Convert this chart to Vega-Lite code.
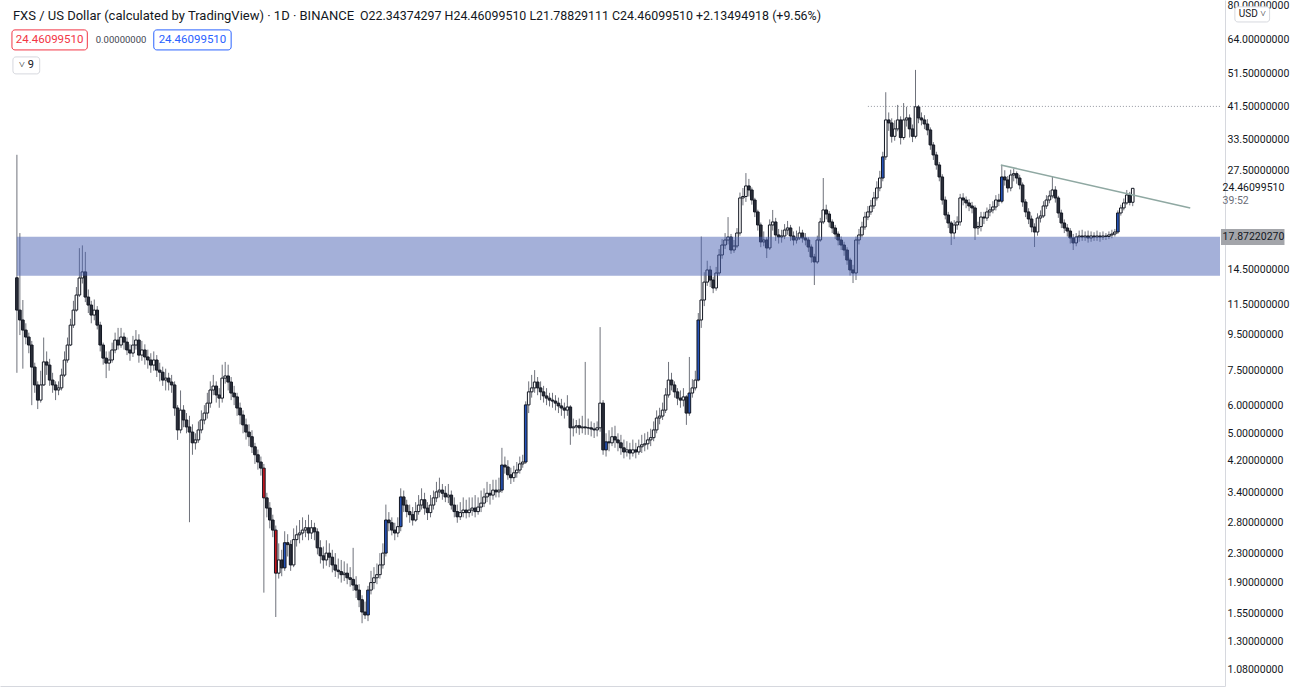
{
"$schema":"https://vega.github.io/schema/vega-lite/v6.json",
"width":1225,"height":686,
"autosize":{"type":"none"},
"padding":{"left":0,"top":0,"right":67,"bottom":2},
"background":"#ffffff",
"config":{"view":{"stroke":null},"font":"Roboto"},
"datasets":{"ohlc":[
{"d":0,"o":13.7,"h":30.4,"l":7.4,"c":11.11},
{"d":1,"o":11.11,"h":18.3,"l":9.45,"c":10.42},
{"d":2,"o":10.42,"h":11.86,"l":7.6,"c":9.76},
{"d":3,"o":9.76,"h":10.2,"l":8.9,"c":9.33},
{"d":4,"o":9.33,"h":9.6,"l":8.4,"c":8.86},
{"d":5,"o":8.86,"h":9.1,"l":6.0,"c":7.68},
{"d":6,"o":7.68,"h":7.9,"l":6.5,"c":6.84},
{"d":7,"o":6.84,"h":7.0,"l":5.85,"c":6.2},
{"d":8,"o":6.2,"h":7.5,"l":6.1,"c":6.84},
{"d":9,"o":6.84,"h":9.3,"l":6.8,"c":7.94},
{"d":10,"o":7.94,"h":8.5,"l":7.3,"c":7.78},
{"d":11,"o":7.78,"h":8.1,"l":6.8,"c":7.06},
{"d":12,"o":7.06,"h":7.4,"l":6.5,"c":6.84},
{"d":13,"o":6.84,"h":7.0,"l":6.2,"c":6.62},
{"d":14,"o":6.62,"h":7.0,"l":6.4,"c":6.71},
{"d":15,"o":6.71,"h":7.6,"l":6.6,"c":7.29},
{"d":16,"o":7.29,"h":8.5,"l":7.2,"c":8.04},
{"d":17,"o":8.04,"h":9.3,"l":7.9,"c":8.86},
{"d":18,"o":8.86,"h":10.5,"l":8.8,"c":10.08},
{"d":19,"o":10.08,"h":11.8,"l":9.9,"c":11.11},
{"d":20,"o":11.11,"h":12.9,"l":11.0,"c":12.25},
{"d":21,"o":12.25,"h":16.6,"l":12.1,"c":13.68},
{"d":22,"o":13.68,"h":16.9,"l":13.2,"c":14.23},
{"d":23,"o":14.23,"h":16.2,"l":11.7,"c":12.09},
{"d":24,"o":12.09,"h":12.7,"l":10.9,"c":11.48},
{"d":25,"o":11.48,"h":11.8,"l":10.2,"c":10.76},
{"d":26,"o":10.76,"h":11.9,"l":10.4,"c":11.11},
{"d":27,"o":11.11,"h":11.4,"l":9.8,"c":10.08},
{"d":28,"o":10.08,"h":10.3,"l":8.5,"c":8.86},
{"d":29,"o":8.86,"h":9.0,"l":7.8,"c":8.14},
{"d":30,"o":8.14,"h":8.5,"l":7.15,"c":7.88},
{"d":31,"o":7.88,"h":8.5,"l":7.5,"c":8.04},
{"d":32,"o":8.04,"h":9.0,"l":7.9,"c":8.58},
{"d":33,"o":8.58,"h":9.6,"l":8.4,"c":9.15},
{"d":34,"o":9.15,"h":9.9,"l":8.6,"c":8.86},
{"d":35,"o":8.86,"h":9.9,"l":8.7,"c":9.33},
{"d":36,"o":9.33,"h":9.6,"l":8.6,"c":9.03},
{"d":37,"o":9.03,"h":9.3,"l":8.3,"c":8.58},
{"d":38,"o":8.58,"h":8.9,"l":8.0,"c":8.41},
{"d":39,"o":8.41,"h":9.4,"l":8.2,"c":8.86},
{"d":40,"o":8.86,"h":9.76,"l":8.6,"c":9.15},
{"d":41,"o":9.15,"h":9.5,"l":7.9,"c":8.3},
{"d":42,"o":8.3,"h":9.1,"l":8.0,"c":8.58},
{"d":43,"o":8.58,"h":8.9,"l":7.8,"c":8.2},
{"d":44,"o":8.2,"h":8.6,"l":7.6,"c":8.04},
{"d":45,"o":8.04,"h":8.4,"l":7.4,"c":7.78},
{"d":46,"o":7.78,"h":8.5,"l":7.5,"c":8.04},
{"d":47,"o":8.04,"h":8.3,"l":7.2,"c":7.53},
{"d":48,"o":7.53,"h":7.9,"l":7.0,"c":7.43},
{"d":49,"o":7.43,"h":7.7,"l":6.8,"c":7.06},
{"d":50,"o":7.06,"h":7.6,"l":6.6,"c":7.15},
{"d":51,"o":7.15,"h":7.4,"l":6.6,"c":6.97},
{"d":52,"o":6.97,"h":7.3,"l":6.5,"c":6.84},
{"d":53,"o":6.84,"h":7.0,"l":5.6,"c":5.89},
{"d":54,"o":5.89,"h":6.0,"l":4.79,"c":5.11},
{"d":55,"o":5.11,"h":6.6,"l":5.0,"c":5.81},
{"d":56,"o":5.81,"h":6.0,"l":5.2,"c":5.45},
{"d":57,"o":5.45,"h":5.7,"l":5.0,"c":5.21},
{"d":58,"o":5.21,"h":5.6,"l":2.81,"c":5.04},
{"d":59,"o":5.04,"h":5.3,"l":4.35,"c":4.7},
{"d":60,"o":4.7,"h":5.0,"l":4.5,"c":4.79},
{"d":61,"o":4.79,"h":5.4,"l":4.7,"c":5.11},
{"d":62,"o":5.11,"h":5.8,"l":5.0,"c":5.45},
{"d":63,"o":5.45,"h":6.0,"l":5.3,"c":5.7},
{"d":64,"o":5.7,"h":6.5,"l":5.5,"c":6.08},
{"d":65,"o":6.08,"h":7.0,"l":5.9,"c":6.62},
{"d":66,"o":6.62,"h":7.3,"l":6.4,"c":6.79},
{"d":67,"o":6.79,"h":7.0,"l":6.1,"c":6.41},
{"d":68,"o":6.41,"h":6.7,"l":5.9,"c":6.28},
{"d":69,"o":6.28,"h":7.8,"l":6.1,"c":7.15},
{"d":70,"o":7.15,"h":7.94,"l":6.9,"c":7.25},
{"d":71,"o":7.25,"h":7.8,"l":6.6,"c":6.97},
{"d":72,"o":6.97,"h":7.2,"l":6.2,"c":6.49},
{"d":73,"o":6.49,"h":6.8,"l":6.0,"c":6.33},
{"d":74,"o":6.33,"h":6.5,"l":5.6,"c":5.89},
{"d":75,"o":5.89,"h":6.1,"l":5.3,"c":5.63},
{"d":76,"o":5.63,"h":5.8,"l":5.0,"c":5.28},
{"d":77,"o":5.28,"h":5.5,"l":4.8,"c":5.04},
{"d":78,"o":5.04,"h":5.3,"l":4.6,"c":4.89},
{"d":79,"o":4.89,"h":5.1,"l":4.4,"c":4.58},
{"d":80,"o":4.58,"h":4.7,"l":4.1,"c":4.35},
{"d":81,"o":4.35,"h":4.5,"l":3.95,"c":4.15},
{"d":82,"o":4.15,"h":4.3,"l":3.8,"c":3.99},
{"d":83,"o":3.99,"h":4.1,"l":1.78,"c":3.29,"s":"R"},
{"d":84,"o":3.29,"h":3.4,"l":2.9,"c":3.08},
{"d":85,"o":3.08,"h":3.2,"l":2.7,"c":2.85},
{"d":86,"o":2.85,"h":2.95,"l":2.55,"c":2.67},
{"d":87,"o":2.67,"h":2.75,"l":1.52,"c":2.02,"s":"R"},
{"d":88,"o":2.02,"h":2.45,"l":1.95,"c":2.2},
{"d":89,"o":2.2,"h":2.35,"l":1.98,"c":2.09},
{"d":90,"o":2.09,"h":2.65,"l":2.05,"c":2.46,"s":"B"},
{"d":91,"o":2.46,"h":2.6,"l":2.25,"c":2.43},
{"d":92,"o":2.43,"h":2.5,"l":2.05,"c":2.13},
{"d":93,"o":2.13,"h":2.7,"l":2.1,"c":2.51},
{"d":94,"o":2.51,"h":2.75,"l":2.4,"c":2.59},
{"d":95,"o":2.59,"h":2.85,"l":2.45,"c":2.62},
{"d":96,"o":2.62,"h":2.9,"l":2.5,"c":2.67},
{"d":97,"o":2.67,"h":2.85,"l":2.55,"c":2.71},
{"d":98,"o":2.71,"h":2.95,"l":2.5,"c":2.62},
{"d":99,"o":2.62,"h":2.85,"l":2.52,"c":2.71},
{"d":100,"o":2.71,"h":2.8,"l":2.5,"c":2.64},
{"d":101,"o":2.64,"h":2.7,"l":2.28,"c":2.38},
{"d":102,"o":2.38,"h":2.5,"l":2.15,"c":2.26},
{"d":103,"o":2.26,"h":2.4,"l":2.08,"c":2.2},
{"d":104,"o":2.2,"h":2.5,"l":2.12,"c":2.3},
{"d":105,"o":2.3,"h":2.45,"l":2.1,"c":2.24},
{"d":106,"o":2.24,"h":2.35,"l":2.03,"c":2.13},
{"d":107,"o":2.13,"h":2.3,"l":1.97,"c":2.06},
{"d":108,"o":2.06,"h":2.22,"l":1.95,"c":2.04},
{"d":109,"o":2.04,"h":2.2,"l":1.9,"c":2.0},
{"d":110,"o":2.0,"h":2.18,"l":1.92,"c":2.02},
{"d":111,"o":2.02,"h":2.15,"l":1.88,"c":1.96},
{"d":112,"o":1.96,"h":2.1,"l":1.85,"c":1.94},
{"d":113,"o":1.94,"h":2.38,"l":1.8,"c":1.87},
{"d":114,"o":1.87,"h":1.98,"l":1.72,"c":1.81},
{"d":115,"o":1.81,"h":1.88,"l":1.62,"c":1.7},
{"d":116,"o":1.7,"h":1.75,"l":1.46,"c":1.57},
{"d":117,"o":1.57,"h":1.68,"l":1.5,"c":1.54},
{"d":118,"o":1.54,"h":1.86,"l":1.48,"c":1.81,"s":"B"},
{"d":119,"o":1.81,"h":2.05,"l":1.76,"c":1.9},
{"d":120,"o":1.9,"h":2.1,"l":1.82,"c":1.96},
{"d":121,"o":1.96,"h":2.15,"l":1.88,"c":2.0},
{"d":122,"o":2.0,"h":2.3,"l":1.95,"c":2.13},
{"d":123,"o":2.13,"h":2.45,"l":2.08,"c":2.3},
{"d":124,"o":2.3,"h":3.15,"l":2.25,"c":2.85,"s":"B"},
{"d":125,"o":2.85,"h":3.0,"l":2.65,"c":2.8},
{"d":126,"o":2.8,"h":2.9,"l":2.58,"c":2.67},
{"d":127,"o":2.67,"h":2.8,"l":2.5,"c":2.62},
{"d":128,"o":2.62,"h":2.9,"l":2.55,"c":2.73},
{"d":129,"o":2.73,"h":3.5,"l":2.65,"c":3.31,"s":"B"},
{"d":130,"o":3.31,"h":3.45,"l":3.0,"c":3.14},
{"d":131,"o":3.14,"h":3.25,"l":2.9,"c":3.01},
{"d":132,"o":3.01,"h":3.15,"l":2.8,"c":2.95},
{"d":133,"o":2.95,"h":3.1,"l":2.75,"c":2.85},
{"d":134,"o":2.85,"h":3.2,"l":2.82,"c":3.01},
{"d":135,"o":3.01,"h":3.35,"l":2.95,"c":3.14},
{"d":136,"o":3.14,"h":3.5,"l":3.05,"c":3.25},
{"d":137,"o":3.25,"h":3.4,"l":2.95,"c":3.08},
{"d":138,"o":3.08,"h":3.2,"l":2.85,"c":2.99},
{"d":139,"o":2.99,"h":3.35,"l":2.9,"c":3.14},
{"d":140,"o":3.14,"h":3.45,"l":3.05,"c":3.29},
{"d":141,"o":3.29,"h":3.65,"l":3.2,"c":3.42},
{"d":142,"o":3.42,"h":3.75,"l":3.3,"c":3.46},
{"d":143,"o":3.46,"h":3.6,"l":3.25,"c":3.39},
{"d":144,"o":3.39,"h":3.55,"l":3.2,"c":3.31},
{"d":145,"o":3.31,"h":3.6,"l":3.18,"c":3.35},
{"d":146,"o":3.35,"h":3.45,"l":3.05,"c":3.14},
{"d":147,"o":3.14,"h":3.3,"l":2.9,"c":3.01},
{"d":148,"o":3.01,"h":3.15,"l":2.8,"c":2.91},
{"d":149,"o":2.91,"h":3.2,"l":2.85,"c":2.99},
{"d":150,"o":2.99,"h":3.3,"l":2.9,"c":3.04},
{"d":151,"o":3.04,"h":3.25,"l":2.88,"c":2.99},
{"d":152,"o":2.99,"h":3.3,"l":2.9,"c":3.04},
{"d":153,"o":3.04,"h":3.3,"l":2.93,"c":3.08},
{"d":154,"o":3.08,"h":3.35,"l":2.9,"c":3.01},
{"d":155,"o":3.01,"h":3.3,"l":2.95,"c":3.1},
{"d":156,"o":3.1,"h":3.45,"l":3.0,"c":3.18},
{"d":157,"o":3.18,"h":3.5,"l":3.1,"c":3.31},
{"d":158,"o":3.31,"h":3.65,"l":3.2,"c":3.39},
{"d":159,"o":3.39,"h":3.6,"l":3.15,"c":3.35},
{"d":160,"o":3.35,"h":3.7,"l":3.25,"c":3.46},
{"d":161,"o":3.46,"h":3.7,"l":3.3,"c":3.42},
{"d":162,"o":3.42,"h":3.75,"l":3.3,"c":3.46},
{"d":163,"o":3.46,"h":4.55,"l":3.4,"c":4.07,"s":"B"},
{"d":164,"o":4.07,"h":4.3,"l":3.85,"c":4.02},
{"d":165,"o":4.02,"h":4.2,"l":3.7,"c":3.82},
{"d":166,"o":3.82,"h":4.0,"l":3.6,"c":3.75},
{"d":167,"o":3.75,"h":4.05,"l":3.65,"c":3.87},
{"d":168,"o":3.87,"h":4.15,"l":3.75,"c":3.94},
{"d":169,"o":3.94,"h":4.3,"l":3.85,"c":4.1},
{"d":170,"o":4.1,"h":4.35,"l":4.0,"c":4.15},
{"d":171,"o":4.15,"h":6.15,"l":4.1,"c":6.01,"s":"B"},
{"d":172,"o":6.01,"h":7.0,"l":5.7,"c":6.54},
{"d":173,"o":6.54,"h":7.3,"l":6.3,"c":6.71},
{"d":174,"o":6.71,"h":7.53,"l":6.5,"c":6.97},
{"d":175,"o":6.97,"h":7.2,"l":6.4,"c":6.71},
{"d":176,"o":6.71,"h":7.0,"l":6.2,"c":6.54},
{"d":177,"o":6.54,"h":6.8,"l":6.1,"c":6.37},
{"d":178,"o":6.37,"h":6.7,"l":6.0,"c":6.28},
{"d":179,"o":6.28,"h":6.5,"l":5.95,"c":6.2},
{"d":180,"o":6.2,"h":6.5,"l":5.9,"c":6.16},
{"d":181,"o":6.16,"h":6.4,"l":5.8,"c":6.08},
{"d":182,"o":6.08,"h":6.3,"l":5.7,"c":5.97},
{"d":183,"o":5.97,"h":6.25,"l":5.6,"c":5.89},
{"d":184,"o":5.89,"h":6.1,"l":5.5,"c":5.81},
{"d":185,"o":5.81,"h":6.4,"l":5.6,"c":5.93},
{"d":186,"o":5.93,"h":6.0,"l":4.64,"c":5.18},
{"d":187,"o":5.18,"h":5.5,"l":4.9,"c":5.21},
{"d":188,"o":5.21,"h":5.45,"l":5.0,"c":5.25},
{"d":189,"o":5.25,"h":5.5,"l":4.95,"c":5.18},
{"d":190,"o":5.18,"h":5.6,"l":5.0,"c":5.21},
{"d":191,"o":5.21,"h":7.94,"l":4.95,"c":5.18},
{"d":192,"o":5.18,"h":5.5,"l":4.95,"c":5.18},
{"d":193,"o":5.18,"h":5.4,"l":4.9,"c":5.14},
{"d":194,"o":5.14,"h":5.35,"l":4.85,"c":5.11},
{"d":195,"o":5.11,"h":5.4,"l":4.9,"c":5.18},
{"d":196,"o":5.18,"h":9.95,"l":5.05,"c":6.08},
{"d":197,"o":6.08,"h":6.2,"l":4.35,"c":4.49},
{"d":198,"o":4.49,"h":5.0,"l":4.3,"c":4.73,"s":"B"},
{"d":199,"o":4.73,"h":5.1,"l":4.45,"c":4.7},
{"d":200,"o":4.7,"h":5.2,"l":4.6,"c":4.89},
{"d":201,"o":4.89,"h":5.25,"l":4.55,"c":4.79},
{"d":202,"o":4.79,"h":5.0,"l":4.45,"c":4.7},
{"d":203,"o":4.7,"h":4.95,"l":4.35,"c":4.55},
{"d":204,"o":4.55,"h":4.8,"l":4.25,"c":4.43},
{"d":205,"o":4.43,"h":4.75,"l":4.3,"c":4.49},
{"d":206,"o":4.49,"h":4.7,"l":4.22,"c":4.4},
{"d":207,"o":4.4,"h":4.8,"l":4.3,"c":4.49},
{"d":208,"o":4.49,"h":4.7,"l":4.25,"c":4.43},
{"d":209,"o":4.43,"h":4.8,"l":4.35,"c":4.58},
{"d":210,"o":4.58,"h":4.95,"l":4.4,"c":4.64},
{"d":211,"o":4.64,"h":5.0,"l":4.45,"c":4.67},
{"d":212,"o":4.67,"h":5.05,"l":4.5,"c":4.79},
{"d":213,"o":4.79,"h":5.15,"l":4.6,"c":4.86},
{"d":214,"o":4.86,"h":5.4,"l":4.75,"c":5.11},
{"d":215,"o":5.11,"h":5.8,"l":5.0,"c":5.52},
{"d":216,"o":5.52,"h":5.9,"l":5.3,"c":5.59},
{"d":217,"o":5.59,"h":6.1,"l":5.45,"c":5.81},
{"d":218,"o":5.81,"h":6.7,"l":5.7,"c":6.41},
{"d":219,"o":6.41,"h":7.94,"l":6.3,"c":7.06},
{"d":220,"o":7.06,"h":7.4,"l":6.6,"c":6.84},
{"d":221,"o":6.84,"h":7.0,"l":6.3,"c":6.54},
{"d":222,"o":6.54,"h":6.7,"l":6.0,"c":6.28},
{"d":223,"o":6.28,"h":6.6,"l":5.9,"c":6.2},
{"d":224,"o":6.2,"h":6.7,"l":5.95,"c":6.33},
{"d":225,"o":6.33,"h":6.4,"l":5.28,"c":5.7},
{"d":226,"o":5.7,"h":8.2,"l":5.6,"c":6.49,"s":"B"},
{"d":227,"o":6.49,"h":7.1,"l":6.3,"c":6.71},
{"d":228,"o":6.71,"h":7.5,"l":6.6,"c":7.06},
{"d":229,"o":7.06,"h":10.9,"l":7.0,"c":10.42,"s":"B"},
{"d":230,"o":10.42,"h":17.9,"l":9.9,"c":11.86},
{"d":231,"o":11.86,"h":14.2,"l":11.4,"c":13.32},
{"d":232,"o":13.32,"h":15.3,"l":13.0,"c":14.41},
{"d":233,"o":14.41,"h":14.8,"l":12.9,"c":13.5},
{"d":234,"o":13.5,"h":13.8,"l":12.4,"c":12.82},
{"d":235,"o":12.82,"h":14.7,"l":12.6,"c":14.13},
{"d":236,"o":14.13,"h":16.5,"l":13.9,"c":15.88},
{"d":237,"o":15.88,"h":17.6,"l":15.5,"c":16.94},
{"d":238,"o":16.94,"h":18.3,"l":16.5,"c":17.5},
{"d":239,"o":17.5,"h":20.3,"l":17.0,"c":17.84},
{"d":240,"o":17.84,"h":18.2,"l":16.0,"c":16.4},
{"d":241,"o":16.4,"h":17.5,"l":16.1,"c":16.83},
{"d":242,"o":16.83,"h":18.9,"l":16.6,"c":18.31},
{"d":243,"o":18.31,"h":23.8,"l":18.0,"c":22.98},
{"d":244,"o":22.98,"h":24.5,"l":21.9,"c":23.2},
{"d":245,"o":23.2,"h":27.0,"l":22.4,"c":24.84},
{"d":246,"o":24.84,"h":26.0,"l":23.2,"c":24.2},
{"d":247,"o":24.2,"h":24.6,"l":22.0,"c":22.68},
{"d":248,"o":22.68,"h":23.0,"l":20.3,"c":20.99},
{"d":249,"o":20.99,"h":21.3,"l":18.6,"c":19.29},
{"d":250,"o":19.29,"h":19.6,"l":16.7,"c":17.28},
{"d":251,"o":17.28,"h":18.5,"l":16.8,"c":17.5},
{"d":252,"o":17.5,"h":17.8,"l":15.57,"c":16.62},
{"d":253,"o":16.62,"h":20.0,"l":16.4,"c":19.29},
{"d":254,"o":19.29,"h":21.26,"l":18.6,"c":19.67},
{"d":255,"o":19.67,"h":20.2,"l":17.4,"c":18.08},
{"d":256,"o":18.08,"h":18.8,"l":17.1,"c":17.84},
{"d":257,"o":17.84,"h":18.7,"l":17.2,"c":17.96},
{"d":258,"o":17.96,"h":19.4,"l":17.6,"c":18.67},
{"d":259,"o":18.67,"h":19.8,"l":18.1,"c":18.92},
{"d":260,"o":18.92,"h":19.3,"l":17.4,"c":17.96},
{"d":261,"o":17.96,"h":18.5,"l":16.9,"c":17.5},
{"d":262,"o":17.5,"h":18.6,"l":17.1,"c":17.73},
{"d":263,"o":17.73,"h":19.1,"l":17.5,"c":18.31},
{"d":264,"o":18.31,"h":18.7,"l":17.2,"c":17.73},
{"d":265,"o":17.73,"h":18.3,"l":16.9,"c":17.5},
{"d":266,"o":17.5,"h":17.8,"l":16.2,"c":16.72},
{"d":267,"o":16.72,"h":17.0,"l":15.1,"c":15.68},
{"d":268,"o":15.68,"h":16.0,"l":13.07,"c":15.18},
{"d":269,"o":15.18,"h":18.0,"l":15.0,"c":17.5},
{"d":270,"o":17.5,"h":20.2,"l":17.3,"c":19.67},
{"d":271,"o":19.67,"h":26.15,"l":19.4,"c":21.26},
{"d":272,"o":21.26,"h":22.0,"l":20.0,"c":20.71},
{"d":273,"o":20.71,"h":21.1,"l":19.0,"c":19.67},
{"d":274,"o":19.67,"h":20.0,"l":18.3,"c":18.92},
{"d":275,"o":18.92,"h":19.3,"l":17.6,"c":18.19},
{"d":276,"o":18.19,"h":18.5,"l":16.9,"c":17.5},
{"d":277,"o":17.5,"h":17.9,"l":16.4,"c":16.94},
{"d":278,"o":16.94,"h":17.3,"l":15.8,"c":16.4},
{"d":279,"o":16.4,"h":16.7,"l":14.9,"c":15.37},
{"d":280,"o":15.37,"h":15.6,"l":13.9,"c":14.41},
{"d":281,"o":14.41,"h":14.9,"l":13.24,"c":14.13},
{"d":282,"o":14.13,"h":17.9,"l":13.5,"c":17.5},
{"d":283,"o":17.5,"h":18.8,"l":17.0,"c":18.08},
{"d":284,"o":18.08,"h":19.7,"l":17.8,"c":19.04},
{"d":285,"o":19.04,"h":21.0,"l":18.7,"c":20.31},
{"d":286,"o":20.31,"h":21.8,"l":19.9,"c":20.99},
{"d":287,"o":20.99,"h":22.7,"l":20.6,"c":21.82},
{"d":288,"o":21.82,"h":23.9,"l":21.4,"c":22.98},
{"d":289,"o":22.98,"h":25.6,"l":22.6,"c":24.52},
{"d":290,"o":24.52,"h":27.4,"l":24.0,"c":26.15},
{"d":291,"o":26.15,"h":31.0,"l":25.6,"c":29.99,"s":"B"},
{"d":292,"o":29.99,"h":45.6,"l":29.4,"c":38.1},
{"d":293,"o":38.1,"h":40.0,"l":35.5,"c":37.37},
{"d":294,"o":37.37,"h":38.5,"l":32.9,"c":34.27},
{"d":295,"o":34.27,"h":38.0,"l":33.3,"c":35.95},
{"d":296,"o":35.95,"h":42.0,"l":35.4,"c":38.1},
{"d":297,"o":38.1,"h":39.0,"l":32.5,"c":33.99},
{"d":298,"o":33.99,"h":42.5,"l":33.5,"c":38.1},
{"d":299,"o":38.1,"h":41.5,"l":36.5,"c":38.6},
{"d":300,"o":38.6,"h":39.5,"l":34.0,"c":35.95},
{"d":301,"o":35.95,"h":37.0,"l":33.0,"c":34.27},
{"d":302,"o":34.27,"h":52.7,"l":33.8,"c":41.5},
{"d":303,"o":41.5,"h":42.0,"l":37.3,"c":38.6},
{"d":304,"o":38.6,"h":40.0,"l":36.8,"c":38.1},
{"d":305,"o":38.1,"h":39.3,"l":35.9,"c":37.12},
{"d":306,"o":37.12,"h":38.3,"l":34.5,"c":35.71},
{"d":307,"o":35.71,"h":36.3,"l":31.4,"c":32.4},
{"d":308,"o":32.4,"h":33.0,"l":29.4,"c":30.37},
{"d":309,"o":30.37,"h":31.0,"l":27.6,"c":28.46},
{"d":310,"o":28.46,"h":29.0,"l":25.6,"c":26.33},
{"d":311,"o":26.33,"h":26.8,"l":22.0,"c":22.68},
{"d":312,"o":22.68,"h":23.2,"l":20.0,"c":20.58},
{"d":313,"o":20.58,"h":21.0,"l":18.9,"c":19.54},
{"d":314,"o":19.54,"h":19.8,"l":16.94,"c":18.31},
{"d":315,"o":18.31,"h":19.9,"l":17.6,"c":19.29},
{"d":316,"o":19.29,"h":20.4,"l":18.7,"c":19.67},
{"d":317,"o":19.67,"h":23.6,"l":19.2,"c":22.98},
{"d":318,"o":22.98,"h":23.7,"l":21.9,"c":22.68},
{"d":319,"o":22.68,"h":23.2,"l":21.5,"c":22.25},
{"d":320,"o":22.25,"h":22.8,"l":21.1,"c":21.82},
{"d":321,"o":21.82,"h":22.4,"l":20.8,"c":21.54},
{"d":322,"o":21.54,"h":21.9,"l":17.5,"c":18.92},
{"d":323,"o":18.92,"h":19.7,"l":18.1,"c":19.1},
{"d":324,"o":19.1,"h":21.0,"l":18.5,"c":20.31},
{"d":325,"o":20.31,"h":21.0,"l":19.4,"c":20.18},
{"d":326,"o":20.18,"h":21.6,"l":19.8,"c":20.99},
{"d":327,"o":20.99,"h":22.1,"l":20.4,"c":21.26},
{"d":328,"o":21.26,"h":22.5,"l":20.8,"c":21.68},
{"d":329,"o":21.68,"h":23.4,"l":21.2,"c":22.68},
{"d":330,"o":22.68,"h":23.6,"l":21.8,"c":22.5},
{"d":331,"o":22.5,"h":28.46,"l":22.2,"c":26.33,"s":"B"},
{"d":332,"o":26.33,"h":27.5,"l":24.9,"c":25.82},
{"d":333,"o":25.82,"h":26.5,"l":23.8,"c":24.52},
{"d":334,"o":24.52,"h":27.6,"l":24.0,"c":26.67},
{"d":335,"o":26.67,"h":27.8,"l":25.6,"c":26.9},
{"d":336,"o":26.9,"h":27.3,"l":25.2,"c":26.15},
{"d":337,"o":26.15,"h":26.7,"l":24.3,"c":25.0},
{"d":338,"o":25.0,"h":25.4,"l":21.7,"c":22.39},
{"d":339,"o":22.39,"h":22.8,"l":20.3,"c":20.99},
{"d":340,"o":20.99,"h":21.5,"l":19.4,"c":20.05},
{"d":341,"o":20.05,"h":20.5,"l":18.4,"c":19.04},
{"d":342,"o":19.04,"h":19.5,"l":16.72,"c":18.43},
{"d":343,"o":18.43,"h":20.8,"l":18.0,"c":20.18},
{"d":344,"o":20.18,"h":21.2,"l":19.6,"c":20.45},
{"d":345,"o":20.45,"h":22.5,"l":20.2,"c":21.82},
{"d":346,"o":21.82,"h":23.4,"l":21.4,"c":22.68},
{"d":347,"o":22.68,"h":24.1,"l":22.2,"c":23.28},
{"d":348,"o":23.28,"h":26.33,"l":22.9,"c":24.2},
{"d":349,"o":24.2,"h":24.8,"l":22.3,"c":22.98},
{"d":350,"o":22.98,"h":23.3,"l":20.2,"c":20.85},
{"d":351,"o":20.85,"h":21.3,"l":18.9,"c":19.54},
{"d":352,"o":19.54,"h":20.0,"l":18.3,"c":18.92},
{"d":353,"o":18.92,"h":19.4,"l":17.9,"c":18.55},
{"d":354,"o":18.55,"h":18.9,"l":17.1,"c":17.73},
{"d":355,"o":17.73,"h":18.2,"l":16.4,"c":17.17},
{"d":356,"o":17.17,"h":18.3,"l":16.8,"c":17.84},
{"d":357,"o":17.84,"h":18.6,"l":17.3,"c":17.96},
{"d":358,"o":17.96,"h":18.7,"l":17.4,"c":17.84},
{"d":359,"o":17.84,"h":18.5,"l":17.4,"c":17.96},
{"d":360,"o":17.96,"h":18.6,"l":17.2,"c":17.73},
{"d":361,"o":17.73,"h":18.5,"l":17.3,"c":17.96},
{"d":362,"o":17.96,"h":18.4,"l":17.4,"c":17.84},
{"d":363,"o":17.84,"h":18.6,"l":17.4,"c":17.96},
{"d":364,"o":17.96,"h":18.4,"l":17.3,"c":17.84},
{"d":365,"o":17.84,"h":18.5,"l":17.5,"c":17.96},
{"d":366,"o":17.96,"h":18.3,"l":17.5,"c":17.9},
{"d":367,"o":17.9,"h":18.5,"l":17.6,"c":18.08},
{"d":368,"o":18.08,"h":18.7,"l":17.7,"c":18.19},
{"d":369,"o":18.19,"h":18.8,"l":17.9,"c":18.43},
{"d":370,"o":18.43,"h":21.2,"l":18.2,"c":20.85,"s":"B"},
{"d":371,"o":20.85,"h":22.0,"l":20.5,"c":21.54},
{"d":372,"o":21.54,"h":22.9,"l":21.2,"c":22.25},
{"d":373,"o":22.25,"h":24.2,"l":22.0,"c":23.43},
{"d":374,"o":23.43,"h":23.9,"l":21.9,"c":22.34},
{"d":375,"o":22.34374297,"h":24.4609951,"l":21.78829111,"c":24.4609951}
]},
"layer":[
{"data":{"name":"ohlc"},
 "mark":{"type":"rule","color":"#6f727b","strokeWidth":1},
 "encoding":{
  "x":{"field":"d","type":"quantitative","title":null,"scale":{"domain":[-4,404.33],"nice":false,"zero":false},
       "axis":{"orient":"bottom","labels":false,"ticks":false,"grid":false,"domain":true,"domainColor":"#d6d8de","title":null}},
  "y":{"field":"l","type":"quantitative","title":null,"scale":{"type":"log","domain":[0.972,82.9],"nice":false},
       "axis":{"orient":"right","values":[1.08,1.3,1.55,1.9,2.3,2.8,3.4,4.2,5,6,7.5,9.5,11.5,14.5,27.5,33.5,41.5,51.5,64,80],
               "format":".8f","labelFont":"Roboto","labelFontSize":10.5,"labelColor":"#131722","ticks":false,"grid":false,
               "domain":true,"domainColor":"#d6d8de","labelPadding":2,"labelOverlap":false,"labelBound":false,"labelFlush":false,"title":null}},
  "y2":{"field":"h"}}},
{"data":{"name":"ohlc"},
 "mark":{"type":"bar","width":2.6,"stroke":"#131722","strokeWidth":1},
 "encoding":{
  "x":{"field":"d","type":"quantitative","title":null},
  "y":{"field":"o","type":"quantitative","title":null},
  "y2":{"field":"c"},
  "fill":{"condition":[{"test":"datum.s==='B'","value":"#2553b8"},{"test":"datum.s==='R'","value":"#c8161d"},{"test":"datum.c>=datum.o","value":"#ffffff"}],"value":"#2a2e39"}}},
{"data":{"values":[{"a":0,"b":404.33,"lo":13.87,"hi":17.87}]},
 "mark":{"type":"rect","fill":"#4961b3","opacity":0.5},
 "encoding":{"x":{"field":"a","type":"quantitative","title":null},"x2":{"field":"b"},"y":{"field":"lo","type":"quantitative","title":null},"y2":{"field":"hi"}}},
{"data":{"values":[{"a":286,"b":404.33,"p":41.6}]},
 "mark":{"type":"rule","color":"#9598a1","strokeDash":[1,2],"strokeWidth":1},
 "encoding":{"x":{"field":"a","type":"quantitative","title":null},"x2":{"field":"b"},"y":{"field":"p","type":"quantitative","title":null}}},
{"data":{"values":[{"a":330.67,"pa":28.46,"b":394.33,"pb":21.54}]},
 "mark":{"type":"rule","color":"#8fa8a2","strokeWidth":1.5},
 "encoding":{"x":{"field":"a","type":"quantitative","title":null},"x2":{"field":"b"},"y":{"field":"pa","type":"quantitative","title":null},"y2":{"field":"pb"}}},
{"data":{"values":[
  {"a":-1.667,"b":23.667,"p1":59.98,"p2":68.3,"col":"#f23645"},
  {"a":46,"b":72,"p1":59.98,"p2":68.3,"col":"#2962ff"},
  {"a":-1.333,"b":7.667,"p1":51.35,"p2":57.32,"col":"#d6d8de"},
  {"a":409.33,"b":421,"p1":71.9,"p2":79.3,"col":"#d6d8de"}]},
 "mark":{"type":"rect","fill":"#ffffff","strokeWidth":1,"cornerRadius":3},
 "encoding":{"x":{"field":"a","type":"quantitative","title":null},"x2":{"field":"b"},"y":{"field":"p1","type":"quantitative","title":null},"y2":{"field":"p2"},
   "stroke":{"field":"col","type":"nominal","scale":null}}},
{"data":{"values":[{"a":404.67,"b":426,"p1":16.95,"p2":18.8}]},
 "mark":{"type":"rect","fill":"#a3a5aa"},
 "encoding":{"x":{"field":"a","type":"quantitative","title":null},"x2":{"field":"b"},"y":{"field":"p1","type":"quantitative","title":null},"y2":{"field":"p2"}}},
{"data":{"values":[
  {"t":"FXS / US Dollar (calculated by TradingView) · 1D · BINANCE","d":-1.333,"p":74.8,"sz":13,"col":"#131722"},
  {"t":"O22.34374297 H24.46099510 L21.78829111 C24.46099510 +2.13494918 (+9.56%)","d":115.33,"p":74.8,"sz":12.4,"col":"#131722"},
  {"t":"24.46099510","d":405.2,"p":24.46,"sz":10.5,"col":"#131722"},
  {"t":"39:52","d":405.2,"p":22.6,"sz":10.5,"col":"#6a6d78"},
  {"t":"17.87220270","d":405.2,"p":17.87,"sz":10.5,"col":"#131722"}]},
 "mark":{"type":"text","baseline":"middle","align":"left","font":"Roboto"},
 "encoding":{"x":{"field":"d","type":"quantitative","title":null},"y":{"field":"p","type":"quantitative","title":null},
   "text":{"field":"t"},"size":{"field":"sz","type":"quantitative","scale":null},
   "color":{"field":"col","type":"nominal","scale":null}}},
{"data":{"values":[
  {"t":"24.46099510","d":11,"p":64.0,"sz":11.5,"col":"#f23645"},
  {"t":"0.00000000","d":35,"p":64.0,"sz":9.5,"col":"#434651"},
  {"t":"24.46099510","d":59,"p":64.0,"sz":11.5,"col":"#2962ff"},
  {"t":"˅ 9","d":3.167,"p":54.27,"sz":11,"col":"#131722"},
  {"t":"USD ˅","d":415.2,"p":75.5,"sz":10,"col":"#131722"}]},
 "mark":{"type":"text","baseline":"middle","align":"center","font":"Roboto"},
 "encoding":{"x":{"field":"d","type":"quantitative","title":null},"y":{"field":"p","type":"quantitative","title":null},
   "text":{"field":"t"},"size":{"field":"sz","type":"quantitative","scale":null},
   "color":{"field":"col","type":"nominal","scale":null}}}
]
}
